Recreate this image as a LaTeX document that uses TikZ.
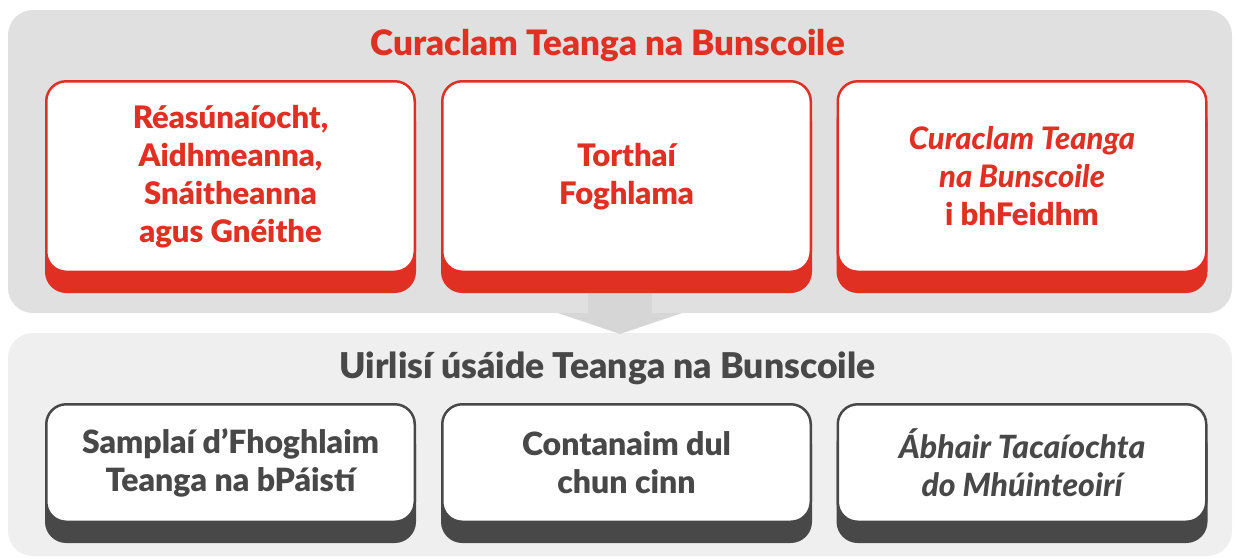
\documentclass[tikz,border=0pt]{standalone}
\usepackage{fontspec}
\setmainfont{Lato}[BoldFont={Lato Black}, BoldItalicFont={Lato Black Italic}]

\definecolor{curred}{RGB}{224,48,36}
\definecolor{toolgray}{RGB}{72,72,72}
\definecolor{toppanel}{RGB}{224,224,224}
\definecolor{lowpanel}{RGB}{239,239,239}
\definecolor{arrowgray}{RGB}{214,214,214}

\tikzset{
  title/.style={font=\bfseries\fontsize{#1}{42}\selectfont},
  card/.style={draw=#1, text=#1, line width=2.5pt, fill=white,
    rounded corners=20pt, minimum width=368.5pt, align=center,
    preaction={fill=#1, draw=#1, transform canvas={yshift=-20pt}}},
  redcard/.style={card=curred, minimum height=190.5pt,
    font=\bfseries\fontsize{31}{38}\selectfont},
  graycard/.style={card=toolgray, minimum height=117.5pt,
    font=\bfseries\fontsize{32}{38}\selectfont}
}

\begin{document}
\begin{tikzpicture}[x=1pt,y=-1pt]
  \useasboundingbox (0,0) rectangle (1236,558);
  % panels
  \fill[toppanel, rounded corners=25pt] (8,10) rectangle (1232,313);
  \fill[lowpanel, rounded corners=25pt] (8,333) rectangle (1232,556);
  % arrow between the panels
  \fill[arrowgray] (588,293) rectangle (652,313);
  \fill[arrowgray] (558,313) -- (682,313) -- (620,334) -- cycle;

  \node[title=35, text=curred] (curaclam) at (607.5,45) {Curaclam Teanga na Bunscoile};
  \node[redcard] (reasun) at (230.5,176.5) {Réasúnaíocht,\\Aidhmeanna,\\Snáitheanna\\agus Gnéithe};
  \node[redcard] (torthai) at (626.5,176.5) {Torthaí\\Foghlama};
  \node[redcard] (feidhm) at (1022,176.5) {\itshape Curaclam Teanga\\\itshape na Bunscoile\\i bhFeidhm};

  \node[title=35.5, text=toolgray] (uirlisi) at (607.5,368) {Uirlisí úsáide Teanga na Bunscoile};
  \node[graycard] (samplai) at (230.5,463) {Samplaí d’Fhoghlaim\\Teanga na bPáistí};
  \node[graycard] (contanaim) at (626.5,463) {Contanaim dul\\chun cinn};
  \node[graycard] (abhair) at (1022,463) {\itshape Ábhair Tacaíochta\\\itshape do Mhúinteoirí};
\end{tikzpicture}
\end{document}
